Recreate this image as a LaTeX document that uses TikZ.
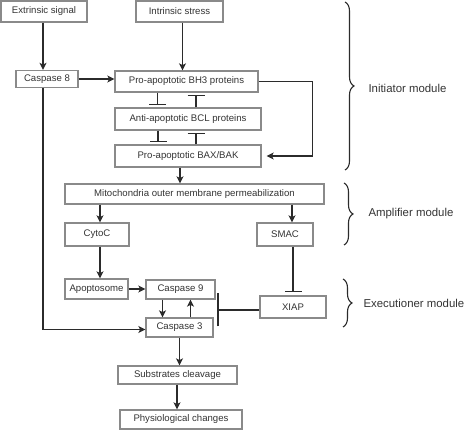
\documentclass[tikz,border=0pt]{standalone}
\usepackage{fontspec}
\setmainfont{Liberation Sans}
\usetikzlibrary{arrows.meta,decorations.pathreplacing}
\definecolor{boxgray}{HTML}{8A8A8A}
\definecolor{linegray}{HTML}{2B2B2B}
\definecolor{txtgray}{HTML}{333333}

\begin{document}
\begin{tikzpicture}[x=1pt,y=-1pt,
	box/.style={draw=boxgray,line width=1.3pt,inner sep=0pt,text=txtgray,font=\fontsize{9.6}{11}\selectfont},
	arr/.style={draw=linegray,line width=1.4pt,-{Stealth[length=7pt,width=7pt,inset=1.8pt]}},
	inh/.style={draw=linegray,line width=1.4pt,-{Bar[width=17pt]}},
	brc/.style={draw=linegray,line width=1.1pt,decorate,decoration={brace,amplitude=9pt}},
	modlabel/.style={anchor=west,text=txtgray,font=\fontsize{11.4}{14}\selectfont}]
			\useasboundingbox (0,0) rectangle (467,430);
			\node[box,minimum width=86,minimum height=21] (ext) at (44,11.5) {Extrinsic signal};
			\node[box,minimum width=87,minimum height=21] (intr) at (179.5,11.5) {Intrinsic stress};
			\node[box,minimum width=62,minimum height=17] (c8) at (47,79) {Caspase 8};
			\node[box,minimum width=143,minimum height=21] (bh3) at (186.5,81.5) {Pro-apoptotic BH3 proteins};
			\node[box,minimum width=146,minimum height=22] (bcl) at (188,119) {Anti-apoptotic BCL proteins};
			\node[box,minimum width=146,minimum height=22] (bax) at (188,156) {Pro-apoptotic BAX/BAK};
			\node[box,minimum width=259,minimum height=20] (mito) at (194.5,194) {Mitochondria outer membrane permeabilization};
			\node[box,minimum width=64,minimum height=23] (cytoc) at (97,234.5) {CytoC};
			\node[box,minimum width=56,minimum height=23] (smac) at (285,234.5) {SMAC};
			\node[box,minimum width=63,minimum height=20] (apop) at (96.5,289) {Apoptosome};
			\node[box,minimum width=69,minimum height=19] (c9) at (180.5,289.5) {Caspase 9};
			\node[box,minimum width=67,minimum height=19] (c3) at (179.5,327.5) {Caspase 3};
			\node[box,minimum width=66,minimum height=22] (xiap) at (293,307) {XIAP};
			\node[box,minimum width=119,minimum height=18] (sub) at (177.5,375) {Substrates cleavage};
			\node[box,minimum width=122,minimum height=19] (phys) at (181,419.5) {Physiological changes};
			\draw[arr] ([xshift=-1]ext.south) -- ([xshift=-1]ext.south |- c8.north);
			\draw[arr] ([xshift=3]intr.south) -- ([xshift=3]intr.south |- bh3.north);
			\draw[arr] (c8.east) -- (c8.east -| bh3.west);
			\draw[inh,shorten >=2pt] ([xshift=-29]bh3.south) -- ([xshift=-29]bh3.south |- bcl.north);
			\draw[inh,shorten >=2pt] ([xshift=8]bcl.north) -- ([xshift=8]bcl.north |- bh3.south);
			\draw[inh,shorten >=2pt] ([xshift=-30]bcl.south) -- ([xshift=-30]bcl.south |- bax.north);
			\draw[inh,shorten >=2pt] ([xshift=8]bax.north) -- ([xshift=8]bax.north |- bcl.south);
			\draw[arr,shorten >=5pt] (bh3.east) -- ++(54,0) |- (bax.east);
			\draw[arr] ([xshift=-8]bax.south) -- ([xshift=-8]bax.south |- mito.north);
			\draw[arr] ([xshift=3]cytoc.north |- mito.south) -- ([xshift=3]cytoc.north);
			\draw[arr] ([xshift=7]smac.north |- mito.south) -- ([xshift=7]smac.north);
			\draw[inh,shorten >=3pt] (xiap.north |- smac.south) -- (xiap.north);
			\draw[arr] ([xshift=3]cytoc.south) -- ([xshift=3]cytoc.south |- apop.north);
			\draw[arr] (apop.east) -- (apop.east -| c9.west);
			\draw[arr] ([xshift=-18]c9.south) -- ([xshift=-18]c9.south |- c3.north);
			\draw[arr] ([xshift=11]c3.north) -- ([xshift=11]c3.north |- c9.south);
			\draw[draw=linegray,line width=1.4pt,-{Bar[width=33pt]}] ([yshift=-3]xiap.west) -- ++(-42,0);
			\draw[arr] ([xshift=-4]c8.south) |- ([yshift=-2]c3.west);
			\draw[arr] (c3.south) -- (c3.south |- sub.north);
			\draw[arr] ([xshift=-4]phys.north |- sub.south) -- ([xshift=-4]phys.north);
			\draw[brc] (345,2) -- (345,170);
			\draw[brc] (344,183) -- (344,245);
			\draw[brc] (343,279) -- (343,327);
			\node[modlabel] (init) at (365,88) {Initiator module};
			\node[modlabel] (ampl) at (365,214) {Amplifier module};
			\node[modlabel] (exec) at (360,303) {Executioner module};
			\end{tikzpicture}
\end{document}
